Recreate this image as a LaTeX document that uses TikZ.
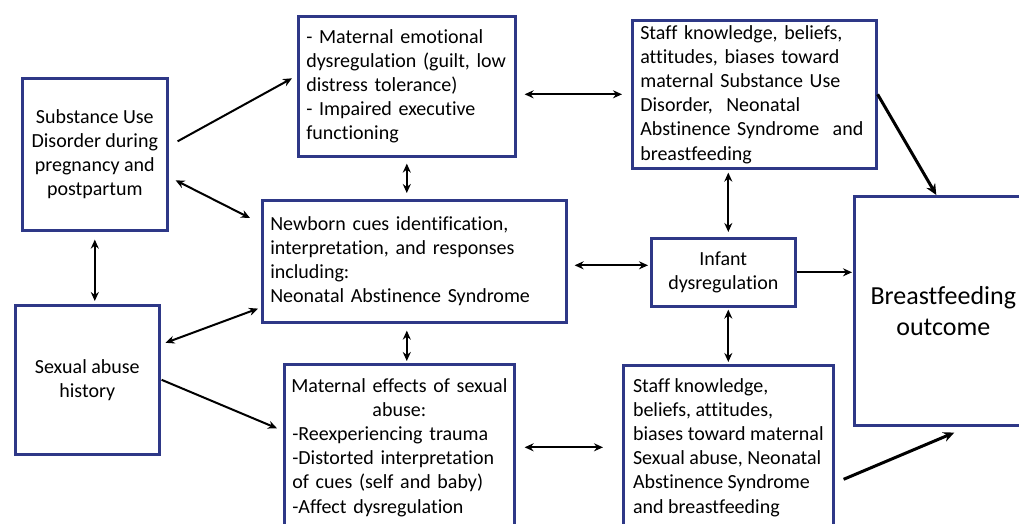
\documentclass[tikz,border=0pt]{standalone}
\usepackage{fontspec}
\setmainfont{Carlito}[Ligatures={NoCommon}]
\usepackage{tikz}
\usetikzlibrary{arrows.meta}
\definecolor{boxblue}{RGB}{46,56,135}
\newcommand{\boxfont}{\fontsize{20pt}{24.2pt}\selectfont}
\newcommand{\bigboxfont}{\fontsize{26pt}{31pt}\selectfont}

\begin{document}
\begin{tikzpicture}[x=1pt,y=-1pt,
			box/.style={draw=boxblue,line width=2.6pt,inner xsep=8pt,inner ysep=0pt,anchor=north west,font=\boxfont},
			arr/.style={-{Stealth[length=9pt,width=8pt]},line width=2pt},
			darr/.style={{Stealth[length=9pt,width=8pt]}-{Stealth[length=9pt,width=8pt]},line width=2pt},
			thickarr/.style={-{Stealth[length=11pt,width=10pt]},line width=3pt}]
			\clip (0,0) rectangle (1019,523);
			\fill[white] (0,0) rectangle (1019,523);
			\node[box,minimum width=145pt,minimum height=152pt,align=center] (sud) at (21,77) {Substance Use\\Disorder during\\pregnancy and\\postpartum};
			\node[box,minimum width=217pt,minimum height=140pt,text width=201pt,align=left] (me) at (297,15) {- Maternal emotional\\dysregulation (guilt, low\\distress tolerance)\\- Impaired executive\\functioning};
			\node[box,minimum width=244pt,minimum height=148pt,text width=228pt,align=left] (st) at (631,19) {Staff knowledge, beliefs,\\attitudes, biases toward\\maternal Substance Use\\Disorder,\ \ Neonatal\\Abstinence Syndrome\ \ and\\breastfeeding};
			\node[box,minimum width=304pt,minimum height=122pt,text width=288pt,align=left] (nb) at (261,199) {Newborn cues identification,\\interpretation, and responses\\including:\\Neonatal Abstinence Syndrome};
			\node[box,minimum width=144pt,minimum height=68pt,align=center] (inf) at (650,237) {Infant\\dysregulation};
			\node[box,minimum width=178pt,minimum height=229pt,align=center,font=\bigboxfont] (bf) at (853,195) {Breastfeeding\\outcome};
			\node[box,minimum width=144pt,minimum height=149pt,align=center] (sa) at (14,304) {Sexual abuse\\history};
			\node[box,minimum width=230pt,minimum height=166pt,text width=214pt,align=left] (mef) at (283,363) {\makebox[\hsize]{Maternal effects of sexual}\\\makebox[\hsize]{abuse:}\\-Reexperiencing trauma\\-Distorted interpretation\\of cues (self and baby)\\-Affect dysregulation};
			\node[box,minimum width=210pt,minimum height=164pt,align=left] (sb) at (622,364) {Staff knowledge,\\beliefs, attitudes,\\biases toward maternal\\Sexual abuse, Neonatal\\Abstinence Syndrome\\and breastfeeding};
			\draw[arr] ([shift={(9,-13)}]sud.east) -- ([shift={(-5,-8)}]me.west);
			\draw[darr] ([shift={(7,26)}]sud.east) -- ([shift={(-11,19)}]nb.north west);
			\draw[darr,shorten <=6pt,shorten >=6pt] (me.south) -- (me.south |- nb.north);
			\draw[darr,shorten <=8pt,shorten >=3pt] (sud.south) -- (sud.south |- sa.north);
			\draw[darr] ([shift={(5,-37)}]sa.east) -- ([shift={(-3,-15)}]nb.south west);
			\draw[arr] ([shift={(1,0)}]sa.east) -- ([shift={(-6,-19)}]mef.west);
			\draw[darr,shorten <=7pt,shorten >=2pt] (me.south |- nb.south) -- (me.south |- mef.north);
			\draw[darr,shorten <=8pt,shorten >=9pt] (st.west -| me.east) -- (st.west);
			\draw[darr,shorten <=3pt,shorten >=5pt] (sb.north |- st.south) -- (sb.north |- inf.north);
			\draw[darr,shorten <=7pt,shorten >=2pt] ([shift={(0,4)}]nb.east) -- ([shift={(0,4)}]nb.east -| inf.west);
			\draw[arr,shorten >=1pt] (inf.east) -- (inf.east -| bf.west);
			\draw[darr,shorten <=2pt,shorten >=2pt] (sb.north |- inf.south) -- (sb.north);
			\draw[darr,shorten <=9pt,shorten >=19pt] (mef.east) -- (mef.east -| sb.west);
			\draw[thickarr] (st.east) -- ([shift={(-7,0)}]bf.north);
			\draw[thickarr] ([shift={(9,32)}]sb.east) -- ([shift={(11,6)}]bf.south);
\end{tikzpicture}
\end{document}
